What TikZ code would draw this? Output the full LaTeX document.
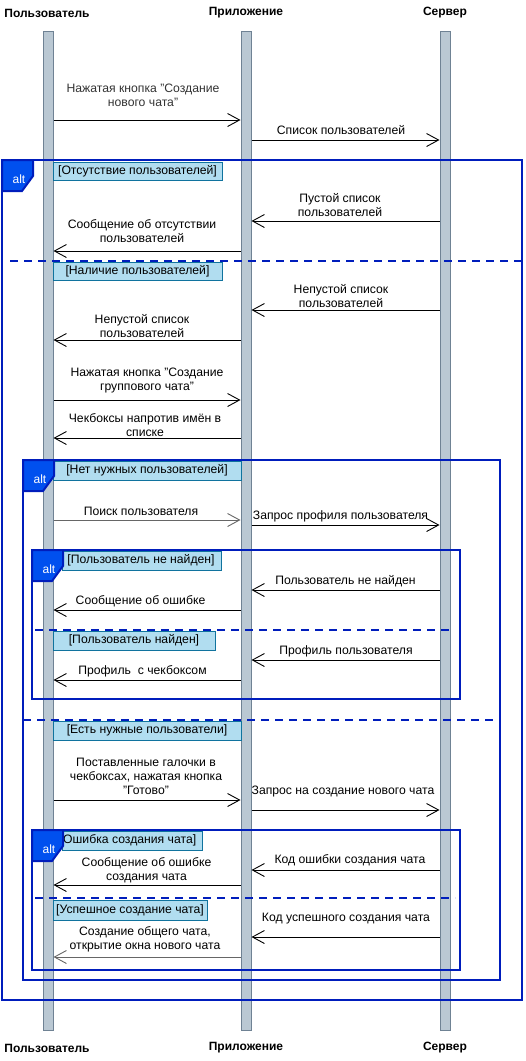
\documentclass[tikz,border=0pt]{standalone}
\usepackage{fontspec}
\setmainfont{Liberation Sans}
\usetikzlibrary{arrows.meta}
\definecolor{frameblue}{HTML}{001DBC}
\definecolor{tagblue}{HTML}{0050EF}
\definecolor{condfill}{HTML}{B1DDF0}
\definecolor{conddraw}{HTML}{10739E}
\definecolor{barfill}{HTML}{BAC8D3}
\definecolor{bardraw}{HTML}{6F8294}
\definecolor{msggray}{HTML}{666666}
\definecolor{txtgray}{HTML}{333333}
\newcommand{\alttag}[3]{%
  \filldraw[tagshape] (#1,#2) -- ++(31,0) -- ++(0,16) -- ++(-11,15) -- ++(-20,0) -- cycle;
  \node[alttext] (#3) at (#1+17,#2+19) {alt};}
\begin{document}
\begin{tikzpicture}[x=1pt,y=-1pt,
  lifeline/.style={rectangle, fill=barfill, draw=bardraw, line width=1pt, minimum width=10pt, minimum height=999pt, inner sep=0pt},
  header/.style={font=\bfseries\fontsize{12}{14}\selectfont, inner sep=0pt},
  msg/.style={line width=0.9pt, -{Straight Barb[length=12pt,width=13pt]}},
  lbl/.style={font=\fontsize{12.2}{14}\selectfont, align=center, inner sep=0pt},
  frame/.style={draw=frameblue, line width=2pt},
  sep/.style={draw=frameblue, line width=2pt, dash pattern=on 8pt off 6pt},
  cond/.style={fill=condfill, draw=conddraw, line width=0.8pt},
  condtext/.style={font=\fontsize{12.2}{13}\selectfont, inner sep=0pt},
  tagshape/.style={fill=tagblue, draw=frameblue, line width=2pt},
  alttext/.style={font=\fontsize{12}{13}\selectfont, text=white, inner sep=0pt}]
\useasboundingbox (0,0) rectangle (526,1061);
% headers
\node[header] (hU) at (47,13) {Пользователь};
\node[header] (hA) at (246,13) {Приложение};
\node[header] (hS) at (445,13) {Сервер};
\node[header] (fU) at (47,1048) {Пользователь};
\node[header] (fA) at (246,1048) {Приложение};
\node[header] (fS) at (445,1048) {Сервер};
% lifelines
\node[lifeline] (U) at (48,530.5) {};
\node[lifeline] (A) at (246,530.5) {};
\node[lifeline] (S) at (445,530.5) {};
% frames
\draw[frame] (2,160) rectangle (522,1000);
\draw[frame] (23,460) rectangle (500,980);
\draw[frame] (32,550) rectangle (460,699);
\draw[frame] (32,830) rectangle (460,970);
% separators
\draw[sep] (10,261) -- (526,261);
\draw[sep] (35,630) -- (452,630);
\draw[sep] (23,720) -- (500,720);
\draw[sep] (35,898) -- (455,898);
% conditions
\filldraw[cond] (53,162) rectangle (222,180); \node[condtext] (c1) at (137.5,171) {[Отсутствие пользователей]};
\filldraw[cond] (53,262) rectangle (222,280); \node[condtext] (c2) at (137.5,271) {[Наличие пользователей]};
\filldraw[cond] (53,461) rectangle (241,480); \node[condtext] (c3) at (147,470.5) {[Нет нужных пользователей]};
\filldraw[cond] (62,551) rectangle (221,570); \node[condtext] (c4) at (141,560.5) {[Пользователь не найден]};
\filldraw[cond] (53,631) rectangle (215,650); \node[condtext] (c5) at (134,640.5) {[Пользователь найден]};
\filldraw[cond] (53,721) rectangle (241,740); \node[condtext] (c6) at (147,730.5) {[Есть нужные пользователи]};
\filldraw[cond] (62,831) rectangle (202,850); \node[condtext, anchor=west] (c7) at (63,840.5) {Ошибка создания чата]};
\filldraw[cond] (53,900) rectangle (207,920); \node[condtext] (c8) at (130,910) {[Успешное создание чата]};
% alt tags
\alttag{2}{160}{t1}
\alttag{23}{460}{t2}
\alttag{32}{550}{t3}
\alttag{32}{830}{t4}
% messages
\draw[msg] (U.east |- 0,120) -- (A.west |- 0,120);
\node[lbl, text=txtgray] (l1) at (143,95) {Нажатая кнопка "Создание\\нового чата"};
\draw[msg] (A.east |- 0,140) -- (S.west |- 0,140);
\node[lbl] (l2) at (341,130) {Список пользователей};
\draw[msg] (S.west |- 0,221) -- (A.east |- 0,221);
\node[lbl] (l3) at (340,205) {Пустой список\\пользователей};
\draw[msg] (A.west |- 0,251) -- (U.east |- 0,251);
\node[lbl] (l4) at (142,231) {Сообщение об отсутствии\\пользователей};
\draw[msg] (S.west |- 0,310) -- (A.east |- 0,310);
\node[lbl] (l5) at (341,296) {Непустой список\\пользователей};
\draw[msg] (A.west |- 0,340) -- (U.east |- 0,340);
\node[lbl] (l6) at (142,326) {Непустой список\\пользователей};
\draw[msg] (U.east |- 0,400) -- (A.west |- 0,400);
\node[lbl] (l7) at (147,380) {Нажатая кнопка "Создание\\группового чата"};
\draw[msg] (A.west |- 0,438) -- (U.east |- 0,438);
\node[lbl] (l8) at (145,425) {Чекбоксы напротив имён в\\списке};
\draw[msg, draw=msggray] (U.east |- 0,520) -- (A.west |- 0,520);
\node[lbl] (l9) at (141,511) {Поиск пользователя};
\draw[msg] (A.east |- 0,525) -- (S.west |- 0,525);
\node[lbl] (l10) at (340.5,516) {Запрос профиля пользователя};
\draw[msg] (S.west |- 0,590) -- (A.east |- 0,590);
\node[lbl] (l11) at (345.5,581) {Пользователь не найден};
\draw[msg] (A.west |- 0,610) -- (U.east |- 0,610);
\node[lbl] (l12) at (140.5,601) {Сообщение об ошибке};
\draw[msg] (S.west |- 0,660) -- (A.east |- 0,660);
\node[lbl] (l13) at (346,651) {Профиль пользователя};
\draw[msg] (A.west |- 0,680) -- (U.east |- 0,680);
\node[lbl] (l14) at (142.5,671) {Профиль\ \ с чекбоксом};
\draw[msg] (U.east |- 0,800) -- (A.west |- 0,800);
\node[lbl] (l15) at (146,776) {Поставленные галочки в\\чекбоксах, нажатая кнопка\\"Готово"};
\draw[msg] (A.east |- 0,810) -- (S.west |- 0,810);
\node[lbl] (l16) at (343,791) {Запрос на создание нового чата};
\draw[msg] (S.west |- 0,870) -- (A.east |- 0,870);
\node[lbl] (l17) at (350,860) {Код ошибки создания чата};
\draw[msg] (A.west |- 0,885) -- (U.east |- 0,885);
\node[lbl] (l18) at (146.5,870.5) {Сообщение об ошибке\\создания чата};
\draw[msg] (S.west |- 0,937) -- (A.east |- 0,937);
\node[lbl] (l19) at (346,919) {Код успешного создания чата};
\draw[msg, draw=msggray] (A.west |- 0,957) -- (U.east |- 0,957);
\node[lbl] (l20) at (145,939) {Создание общего чата,\\открытие окна нового чата};
\end{tikzpicture}
\end{document}
